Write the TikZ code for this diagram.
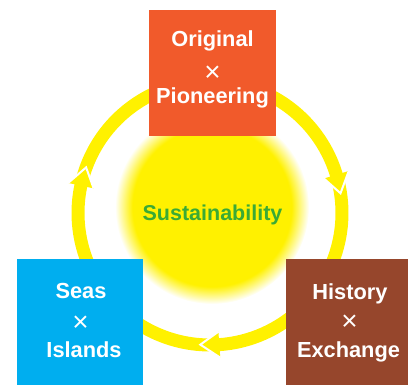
\documentclass[tikz,border=0pt]{standalone}
\usepackage{fontspec}
\setmainfont{Liberation Sans}
\usetikzlibrary{calc}
\definecolor{sunY}{RGB}{255,241,0}
\definecolor{orangeC}{RGB}{241,90,43}
\definecolor{blueC}{RGB}{0,174,239}
\definecolor{brownC}{RGB}{150,70,44}
\definecolor{greenC}{RGB}{58,170,53}
\pgfdeclareradialshading{sunglow}{\pgfpoint{0bp}{0bp}}{color(0bp)=(sunY); color(20.5bp)=(sunY); color(25bp)=(white); color(50bp)=(white)}
\begin{document}
\begin{tikzpicture}[x=1pt,y=1pt,
  ringline/.style={draw=sunY, line width=13pt},
  notch/.style={draw=white, line width=2pt, line join=miter},
  boxst/.style={draw=none, inner sep=0pt, minimum width=127pt, minimum height=126pt},
  lbl/.style={text=white, inner sep=0pt, anchor=base, font=\bfseries\fontsize{21.8}{24}\selectfont},
  crossst/.style={text=white, inner sep=0pt, anchor=base, text height=15pt, text depth=0pt, font=\fontsize{28}{30}\selectfont},
  centerlbl/.style={text=greenC, inner sep=0pt, anchor=base, font=\bfseries\fontsize{21.5}{24}\selectfont}]
\useasboundingbox (0,0) rectangle (408,-385);
\clip (0,0) rectangle (408,-385);
\coordinate (sun) at (212,-207);
\coordinate (ctr) at (210,-213);
% glowing sun
\shade[shading=sunglow] (sun) circle[radius=97pt];
% ring arcs (clockwise)
\draw[ringline] ($(ctr)+(165.8:132pt)$) arc[start angle=165.8, end angle=16.35, radius=132pt];
\draw[ringline] ($(ctr)+(14.6:132pt)$) arc[start angle=14.6, end angle=-86.45, radius=132pt];
\draw[ringline] ($(ctr)+(-88.2:132pt)$) arc[start angle=-88.2, end angle=-192.45, radius=132pt];
% arrow heads
\foreach \t in {8.6,-94.2,159.8}{
  \pgfmathsetmacro\b{\t+8.25}
  \fill[sunY] ($(ctr)+(\b:119pt)$) -- ($(ctr)+(\t:132pt)$) -- ($(ctr)+(\b:145pt)$) -- cycle;
  \draw[notch] ($(ctr)+(\b:119pt)$) -- ($(ctr)+(\t:132pt)$) -- ($(ctr)+(\b:145pt)$);
}
% boxes
\node[boxst, fill=orangeC] (orig) at (212.5,-73) {};
\node[boxst, fill=blueC, minimum width=126pt] (seas) at (80,-322) {};
\node[boxst, fill=brownC, minimum width=126pt] (hist) at (349,-322) {};
% texts
\node[lbl] (o1) at (212.5,-47) {Original};
\node[crossst] (o2) at (212.5,-82) {×};
\node[lbl] (o3) at (212.5,-104) {Pioneering};
\node[lbl] (s1) at (81,-299) {Seas};
\node[crossst] (s2) at (80.5,-332) {×};
\node[lbl] (s3) at (84,-358) {Islands};
\node[lbl] (h1) at (350,-300) {History};
\node[crossst] (h2) at (349.5,-331) {×};
\node[lbl] (h3) at (348.5,-358) {Exchange};
\node[centerlbl] (sust) at (212.5,-221) {Sustainability};
\end{tikzpicture}
\end{document}
